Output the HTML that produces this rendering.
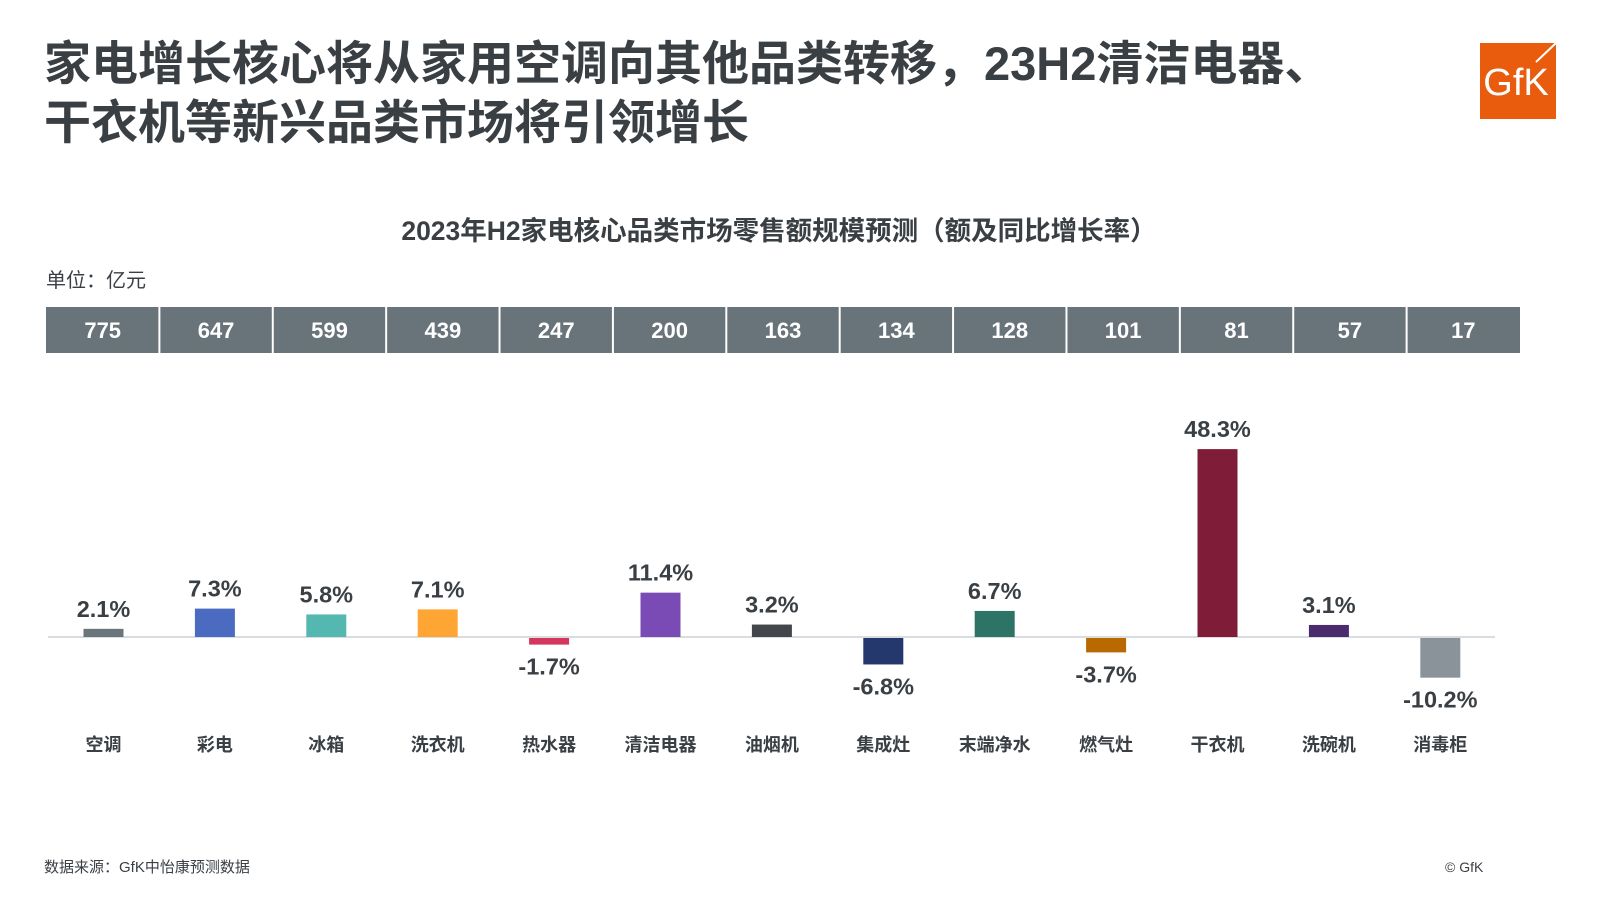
<!DOCTYPE html>
<html><head><meta charset="utf-8"><style>
html,body{margin:0;padding:0;background:#fff;}
svg{display:block;font-family:"Liberation Sans","Noto Sans CJK SC",sans-serif;}
</style></head><body>
<svg width="1600" height="900" viewBox="0 0 1600 900" xmlns="http://www.w3.org/2000/svg">
<text x="44" y="80" font-size="47" font-weight="bold" fill="#3a3f44">家电增长核心将从家用空调向其他品类转移，23H2清洁电器、</text>
<text x="44" y="139" font-size="47" font-weight="bold" fill="#3a3f44">干衣机等新兴品类市场将引领增长</text>
<rect x="1480" y="43" width="76" height="76" fill="#e95c0e"/>
<text x="1516" y="95" font-size="38" fill="#fff" text-anchor="middle" font-family="Liberation Sans, sans-serif">GfK</text>
<line x1="1536" y1="62" x2="1556" y2="43" stroke="#fff" stroke-width="2"/>
<text x="779" y="240" font-size="26.5" font-weight="bold" fill="#3a3f44" text-anchor="middle">2023年H2家电核心品类市场零售额规模预测（额及同比增长率）</text>
<text x="46" y="287" font-size="20" fill="#3a3f44">单位：亿元</text>
<rect x="46" y="307" width="1474" height="46" fill="#68737a"/>
<g id="cells"></g>
<line x1="48" y1="637" x2="1495" y2="637" stroke="#d9dde0" stroke-width="2"/>
<g id="bars"></g>
<text x="44" y="872" font-size="15" fill="#3a3f44">数据来源：GfK中怡康预测数据</text>
<text x="1445" y="872" font-size="14" fill="#3a3f44">© GfK</text>
<script>
var ns="http://www.w3.org/2000/svg";
function el(p,t,a,txt){var e=document.createElementNS(ns,t);for(var k in a)e.setAttribute(k,a[k]);if(txt!=null)e.textContent=txt;p.appendChild(e);return e;}
var vals=[775,647,599,439,247,200,163,134,128,101,81,57,17];
var cells=document.getElementById("cells");
var w=1474/13;
for(var i=0;i<13;i++){var x=46+i*w;
if(i>0)el(cells,"line",{x1:x,y1:307,x2:x,y2:353,stroke:"#fff","stroke-width":2});
el(cells,"text",{x:x+w/2,y:338,"font-size":22,"font-weight":"bold",fill:"#fff","text-anchor":"middle"},vals[i]);}
var names=["空调","彩电","冰箱","洗衣机","热水器","清洁电器","油烟机","集成灶","末端净水","燃气灶","干衣机","洗碗机","消毒柜"];
var pct=[2.1,7.3,5.8,7.1,-1.7,11.4,3.2,-6.8,6.7,-3.7,48.3,3.1,-10.2];
var cols=["#6b757c","#4a6bbf","#55b8b0","#ffa533","#d4365e","#7b4bb5","#43474c","#24386e","#2e7466","#b86a00","#7f1c37","#4a2b6d","#8a9399"];
var g=document.getElementById("bars");var s=3.89;var base=637;
for(var i=0;i<13;i++){var cx=103.5+i*111.4;var h=Math.abs(pct[i])*s;
var y=pct[i]>=0?base-h:base+1;
el(g,"rect",{x:cx-20,y:y,width:40,height:h,fill:cols[i]});
var ly=pct[i]>=0?base-h-12:base+h+31;
el(g,"text",{x:cx,y:ly,"font-size":23.5,"font-weight":"bold",fill:"#3a3f44","text-anchor":"middle"},pct[i].toFixed(1)+"%");
el(g,"text",{x:cx,y:751,"font-size":18,"font-weight":"bold",fill:"#3a3f44","text-anchor":"middle"},names[i]);}
</script>
</svg>
</body></html>
